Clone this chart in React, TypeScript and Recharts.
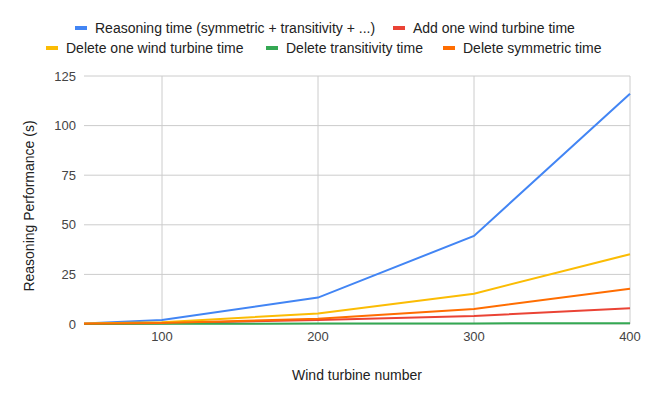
import React from 'react';
import { LineChart, Line, XAxis, YAxis, CartesianGrid, Legend } from 'recharts';

const turbines = [50, 100, 200, 300, 400];
const reasoningTime = [0.3, 2.0, 13.3, 44.4, 116.0];
const addTurbineTime = [0.1, 0.4, 2.0, 4.0, 8.0];
const deleteTurbineTime = [0.2, 0.9, 5.3, 15.3, 35.2];
const deleteTransitivityTime = [0.05, 0.1, 0.2, 0.3, 0.4];
const deleteSymmetricTime = [0.1, 0.5, 2.6, 7.6, 17.8];

const xTicks = [100, 200, 300, 400];
const yTicks = [0, 25, 50, 75, 100, 125];

const seriesInfo = [
  { key: 'reasoning', name: 'Reasoning time (symmetric + transitivity + ...)', color: '#4285F4', values: reasoningTime },
  { key: 'add', name: 'Add one wind turbine time', color: '#EA4335', values: addTurbineTime },
  { key: 'delTurbine', name: 'Delete one wind turbine time', color: '#FBBC04', values: deleteTurbineTime },
  { key: 'delTrans', name: 'Delete transitivity time', color: '#34A853', values: deleteTransitivityTime },
  { key: 'delSym', name: 'Delete symmetric time', color: '#FF6D01', values: deleteSymmetricTime },
];

const data = turbines.map((t, i) => {
  const row: Record<string, number> = { x: t };
  seriesInfo.forEach((s) => {
    row[s.key] = s.values[i];
  });
  return row;
});

const FONT = "Arial, 'Liberation Sans', sans-serif";

const legendPlacement: Record<string, { top: number; left: number }> = {
  reasoning: { top: 28, left: 75 },
  add: { top: 28, left: 393 },
  delTurbine: { top: 48, left: 46 },
  delTrans: { top: 48, left: 266 },
  delSym: { top: 48, left: 443 },
};

const renderLegend = () => (
  <div style={{ position: 'relative', width: 651, height: 70, fontFamily: FONT, fontSize: 14, color: '#222' }}>
    {seriesInfo.map((s) => {
      const p = legendPlacement[s.key];
      return (
        <div key={s.key} style={{ position: 'absolute', left: p.left, top: p.top - 9, height: 18, display: 'flex', alignItems: 'center', whiteSpace: 'nowrap' }}>
          <span style={{ display: 'inline-block', width: 12, height: 4, background: s.color, marginRight: 8 }} />
          <span>{s.name}</span>
        </div>
      );
    })}
  </div>
);

const YLabel = (props: any) => {
  const vb = props.viewBox || { x: 0, y: 76, width: 84, height: 248 };
  const cx = vb.x + 29;
  const cy = vb.y + vb.height / 2 + 6;
  return (
    <text x={cx} y={cy} transform={`rotate(-90, ${cx}, ${cy})`} textAnchor="middle" dominantBaseline="central" fill="#222" fontSize={14} fontFamily={FONT}>
      Reasoning Performance (s)
    </text>
  );
};

export default function App() {
  return (
    <div style={{ position: 'absolute', left: 0, top: 0, width: 651, height: 402, background: '#fff' }}>
      <LineChart width={651} height={402} data={data} margin={{ top: 76, right: 21, bottom: 0, left: 0 }}>
        <CartesianGrid stroke="#cccccc" strokeWidth={1} horizontalValues={yTicks} verticalValues={xTicks} />
        <XAxis
          dataKey="x"
          type="number"
          domain={[50, 400]}
          ticks={xTicks}
          axisLine={false}
          tickLine={false}
          height={78}
          tick={{ fill: '#444', fontSize: 13, fontFamily: FONT }}
          label={{ value: 'Wind turbine number', position: 'insideTop', offset: 46, fill: '#222', fontSize: 14, fontFamily: FONT }}
        />
        <YAxis
          type="number"
          domain={[0, 125]}
          ticks={yTicks}
          axisLine={false}
          tickLine={false}
          width={84}
          tick={{ fill: '#444', fontSize: 13, fontFamily: FONT }}
          label={<YLabel />}
        />
        <Legend
          layout="horizontal"
          verticalAlign="middle"
          align="center"
          content={renderLegend}
          wrapperStyle={{ position: 'absolute', top: 0, left: 0, width: 651, height: 70 }}
        />
        {seriesInfo.map((s) => (
          <Line
            key={s.key}
            type="linear"
            dataKey={s.key}
            name={s.name}
            stroke={s.color}
            strokeWidth={2}
            dot={false}
            activeDot={false}
            isAnimationActive={false}
          />
        ))}
      </LineChart>
    </div>
  );
}
